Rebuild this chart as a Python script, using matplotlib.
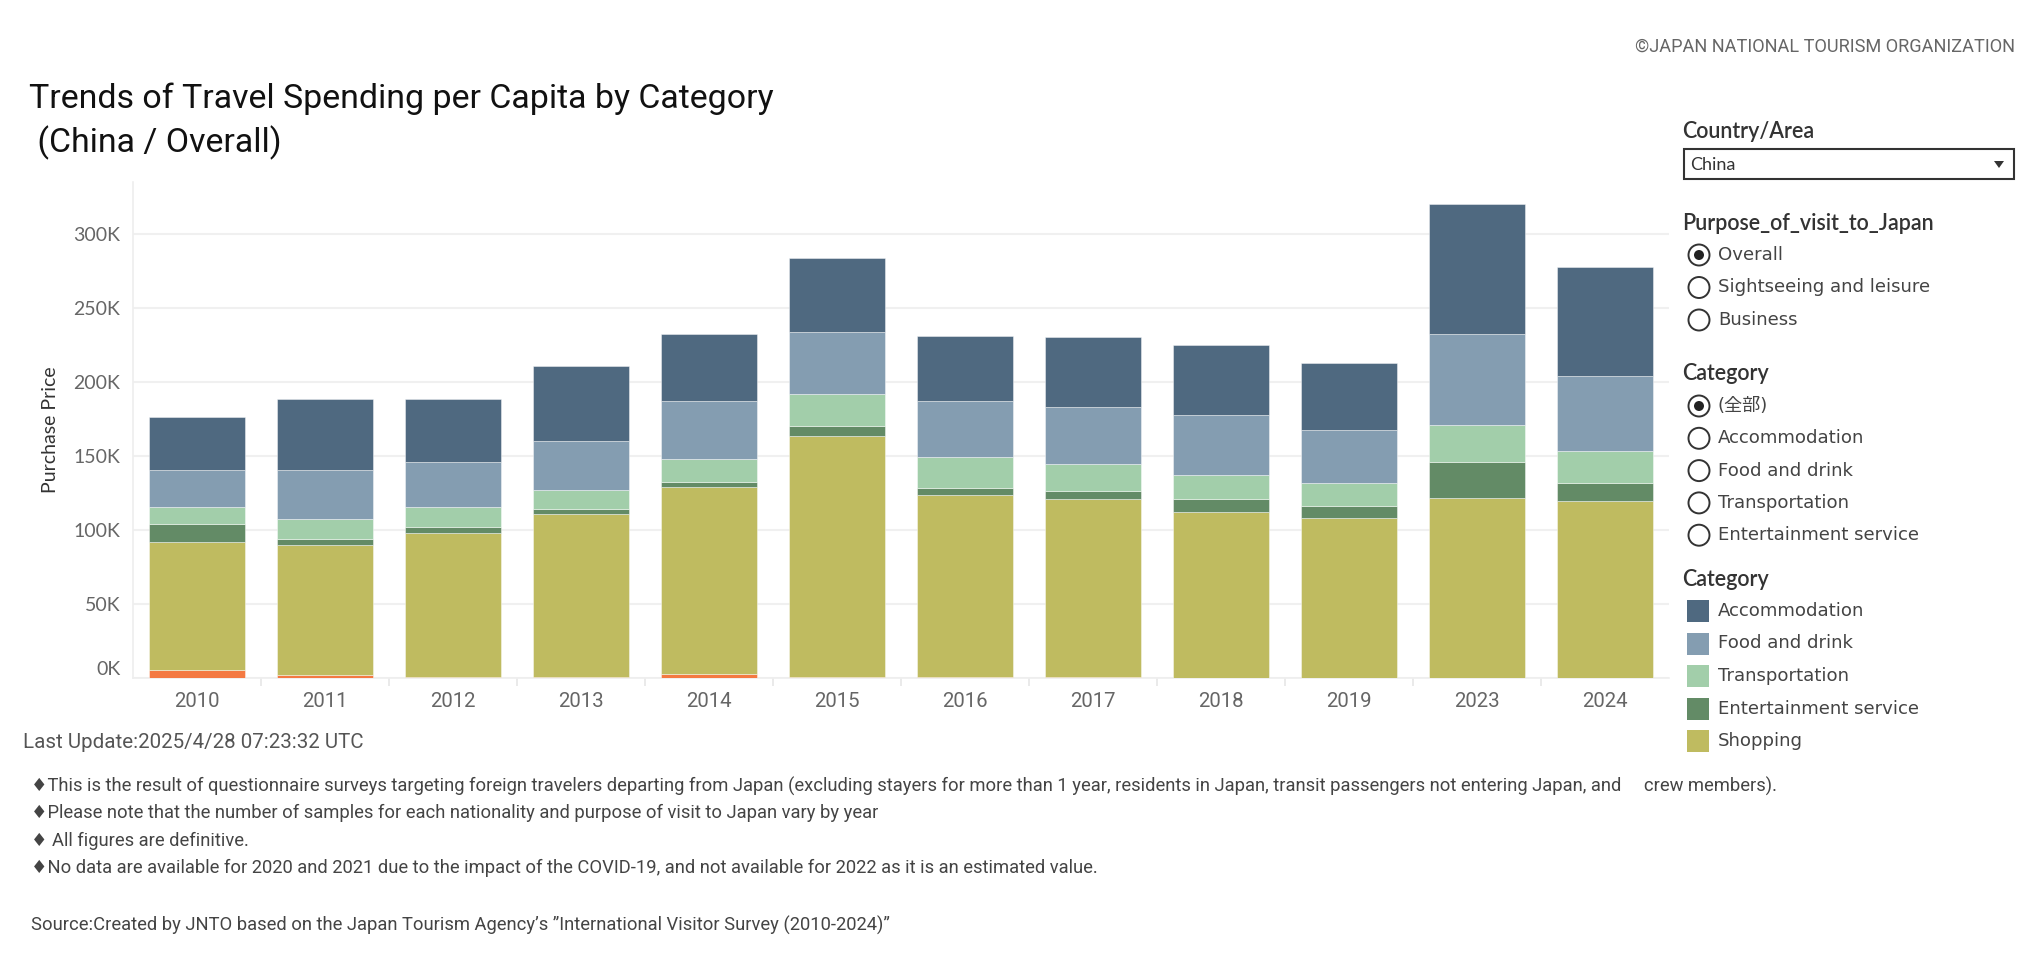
import numpy as np
import matplotlib
matplotlib.use("Agg")
import matplotlib.pyplot as plt
from matplotlib.patches import Rectangle, Circle, Polygon
from matplotlib.ticker import FuncFormatter, FixedLocator

# values in yen (thousands)
years = ["2010", "2011", "2012", "2013", "2014", "2015", "2016", "2017", "2018", "2019", "2023", "2024"]
other = [5.5, 2.2, 1.0, 1.0, 2.4, 1.0, 1.0, 1.0, 0.0, 0.0, 0.0, 0.0]
shopping = [86.4, 87.4, 96.6, 109.6, 126.7, 162.4, 122.7, 119.6, 111.8, 108.4, 121.7, 119.4]
entertainment = [12.0, 4.6, 4.4, 3.4, 3.6, 6.5, 4.5, 5.4, 8.8, 7.6, 24.1, 12.2]
transportation = [11.3, 13.0, 13.2, 12.9, 15.1, 21.9, 20.8, 18.5, 16.4, 15.6, 25.0, 21.9]
food = [25.2, 33.2, 30.6, 33.1, 39.5, 41.7, 38.3, 38.5, 40.6, 36.1, 61.6, 50.5]
accommodation = [36.1, 48.0, 42.6, 50.8, 45.1, 50.5, 44.0, 47.4, 47.2, 44.9, 87.8, 73.5]

legend_names = ["Accommodation", "Food and drink", "Transportation", "Entertainment service", "Shopping"]
purpose_opts = ["Overall", "Sightseeing and leisure", "Business"]
category_opts = ["(全部)", "Accommodation", "Food and drink", "Transportation", "Entertainment service"]

notes = [
    "\u2666This is the result of questionnaire surveys targeting foreign travelers departing from Japan (excluding stayers for more than 1 year, residents in Japan, transit passengers not entering Japan, and     crew members).",
    "\u2666Please note that the number of samples for each nationality and purpose of visit to Japan vary by year",
    "\u2666 All figures are definitive.",
    "\u2666No data are available for 2020 and 2021 due to the impact of the COVID-19, and not available for 2022 as it is an estimated value.",
]

# colours
c_acc = "#4F6980"
c_food = "#849DB1"
c_trans = "#A2CEAA"
c_ent = "#638B66"
c_shop = "#BFBB60"
c_other = "#F47942"

NARROW = ["Roboto", "DejaVu Sans"]
BOOK = ["Lato", "Noto Sans CJK JP", "DejaVu Sans"]
WIDE = ["DejaVu Sans", "Noto Sans CJK JP"]

W, H = 2040, 961
fig = plt.figure(figsize=(W / 100, H / 100), dpi=100)
fig.patch.set_facecolor("white")

# # # # # # # # # # # # # # # # # # # # # # # # # # # # # # # # # #
# main bar chart
ax_l, ax_r, ax_t, ax_b = 133, 1669, 182, 678
ax = fig.add_axes([ax_l / W, 1 - ax_b / H, (ax_r - ax_l) / W, (ax_b - ax_t) / H])

x = np.arange(len(years))
series = [(other, c_other), (shopping, c_shop), (entertainment, c_ent),
          (transportation, c_trans), (food, c_food), (accommodation, c_acc)]
bottom = np.zeros(len(years))
for vals, col in series:
    v = np.array(vals) * 1000
    ax.bar(x, v, width=0.75, bottom=bottom, color=col,
           edgecolor=(1, 1, 1, 0.5), linewidth=0.6, zorder=3)
    bottom += v

ax.set_xlim(-0.5, len(years) - 0.5)
ax.set_ylim(0, 335000)
ax.set_yticks(np.arange(0, 300001, 50000))
ax.yaxis.set_major_formatter(FuncFormatter(lambda v, p: "%dK" % int(v / 1000)))
ax.grid(axis="y", color="#F0F0F0", linewidth=1.5, zorder=0)
ax.set_axisbelow(True)

ax.set_xticks(x)
ax.set_xticklabels(years, fontsize=14.7, color="#666666", family=NARROW)
ax.xaxis.set_minor_locator(FixedLocator(np.arange(0.5, len(years) - 0.5, 1)))
ax.tick_params(axis="x", which="major", length=0, pad=10)
ax.tick_params(axis="x", which="minor", length=6, color="#E6E6E6", width=1.2)
ax.tick_params(axis="y", length=0, pad=9, labelsize=14, labelcolor="#666666")
for lab in ax.get_yticklabels():
    lab.set_family(BOOK)
ax.get_yticklabels()[0].set_verticalalignment("bottom")

for s in ["top", "right"]:
    ax.spines[s].set_visible(False)
ax.spines["left"].set_color("#EEEEEE")
ax.spines["bottom"].set_color("#EEEEEE")
ax.spines["left"].set_linewidth(1.2)
ax.spines["bottom"].set_linewidth(1.2)

ax.set_ylabel("Purchase Price", fontsize=14, color="#333333", family=BOOK)
ax.yaxis.set_label_coords((59 - ax_l) / (ax_r - ax_l), 0.5)

# # # # # # # # # # # # # # # # # # # # # # # # # # # # # # # # # #
# overlay in pixel coordinates for titles, notes and the side panel
ov = fig.add_axes([0, 0, 1, 1])
ov.set_xlim(0, W)
ov.set_ylim(H, 0)
ov.axis("off")

ov.text(2015, 47, "\u00a9JAPAN NATIONAL TOURISM ORGANIZATION", ha="right", va="center",
        fontsize=13.1, color="#666666", family=NARROW)
ov.text(29, 99, "Trends of Travel Spending per Capita by Category", ha="left", va="center",
        fontsize=24.4, color="#111111", family=NARROW)
ov.text(29, 143, " (China / Overall)", ha="left", va="center",
        fontsize=24.4, color="#111111", family=NARROW)

ov.text(23, 743, "Last Update:2025/4/28 07:23:32 UTC", ha="left", va="center",
        fontsize=14.8, color="#555555", family=NARROW)
for i, line in enumerate(notes):
    ov.text(31, 786 + i * 27.3, line, ha="left", va="center",
            fontsize=13.2, color="#444444", family=NARROW)
ov.text(31, 925, "Source:Created by JNTO based on the Japan Tourism Agency\u2019s \u201dInternational Visitor Survey (2010-2024)\u201d",
        ha="left", va="center", fontsize=13.2, color="#444444", family=NARROW)

# side panel
px = 1682
head_kw = dict(ha="left", va="center", fontsize=15.5, color="#333333", family=BOOK, fontweight="semibold")
opt_kw = dict(ha="left", va="center", fontsize=13.1, color="#444444", family=WIDE)

ov.text(px, 132, "Country/Area", **head_kw)
ov.add_patch(Rectangle((1684, 149), 330, 30, facecolor="white", edgecolor="#333333", linewidth=1.5))
ov.text(1690, 165, "China", ha="left", va="center", fontsize=13, color="#333333", family=BOOK)
ov.add_patch(Polygon([[1994, 161], [2004, 161], [1999, 168]], closed=True, facecolor="#333333", edgecolor="none"))

def radio(y, label, selected):
    ov.add_patch(Circle((1699, y), 10.5, facecolor="white", edgecolor="#333333", linewidth=1.4))
    if selected:
        ov.add_patch(Circle((1699, y), 5, facecolor="#222222", edgecolor="none"))
    ov.text(1718, y, label, **opt_kw)

ov.text(px, 223, "Purpose_of_visit_to_Japan", **head_kw)
for i, lab in enumerate(purpose_opts):
    radio(255 + i * 32.5, lab, i == 0)

ov.text(px, 374, "Category", **head_kw)
for i, lab in enumerate(category_opts):
    radio(406 + i * 32.3, lab, i == 0)

ov.text(px, 579, "Category", **head_kw)
for i, (lab, col) in enumerate(zip(legend_names, [c_acc, c_food, c_trans, c_ent, c_shop])):
    yy = 611 + i * 32.5
    ov.add_patch(Rectangle((1687, yy - 11), 22, 22, facecolor=col, edgecolor="none"))
    ov.text(1718, yy, lab, **opt_kw)

fig.savefig("out.png", dpi=100, facecolor="white")
